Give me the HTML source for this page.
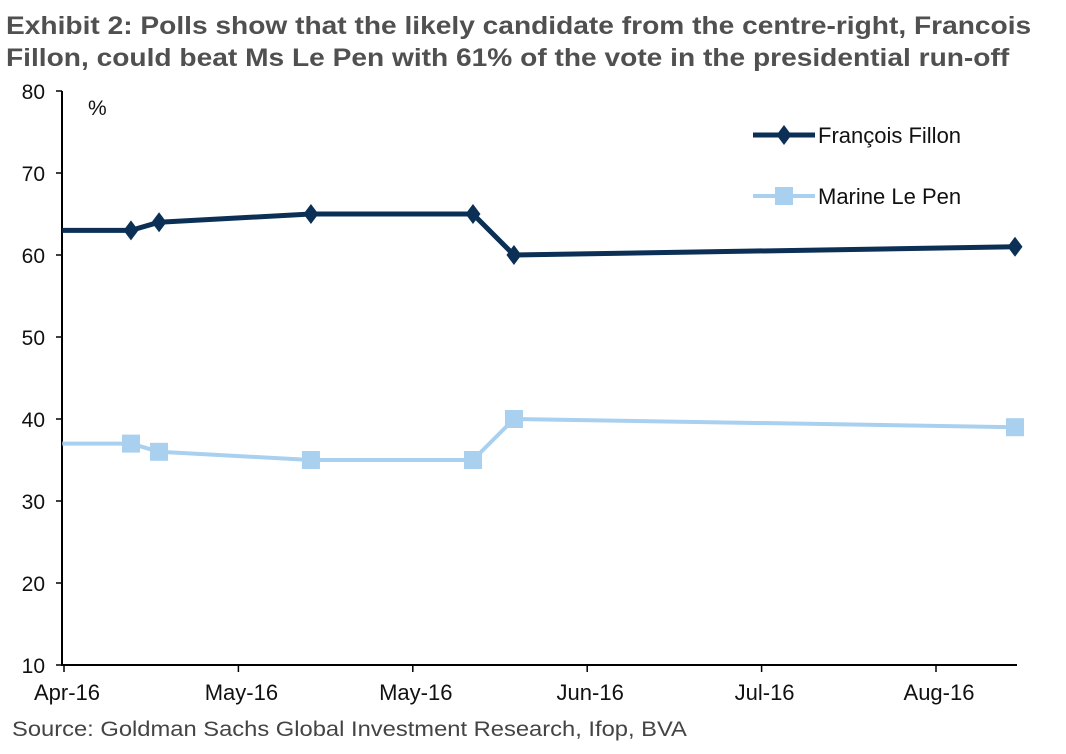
<!DOCTYPE html>
<html><head><meta charset="utf-8"><style>
body{margin:0;background:#fff;width:1066px;height:754px;overflow:hidden;font-family:"Liberation Sans",Arial,sans-serif;}
.title{position:absolute;left:6px;top:10px;font-size:25px;font-weight:bold;color:#505050;line-height:32px;white-space:nowrap;transform-origin:0 0;transform:scaleX(1.125);}
.source{position:absolute;left:12px;top:718px;font-size:21px;color:#444;white-space:nowrap;transform-origin:0 0;transform:scaleX(1.13);}
svg{position:absolute;left:0;top:0;}
</style></head><body>
<div class="title">Exhibit 2: Polls show that the likely candidate from the centre-right, Francois<br>Fillon, could beat Ms Le Pen with 61% of the vote in the presidential run-off</div>
<div class="source">Source: Goldman Sachs Global Investment Research, Ifop, BVA</div>
<svg id="chart" width="1066" height="754"></svg>
<script>
const xTickLabels=["Apr-16","May-16","May-16","Jun-16","Jul-16","Aug-16"];
const yTicks=[10,20,30,40,50,60,70,80];
const dates=[-0.01,0.384,0.545,1.416,2.345,2.58,5.453];
const fillon=[63,63,64,65,65,60,61];
const lepen=[37,37,36,35,35,40,39];
const svg=document.getElementById('chart');
const NS='http://www.w3.org/2000/svg';
const X0=64,XS=174.4,Y0=665,YS=8.2;
const xS=t=>X0+t*XS, yS=v=>Y0-(v-10)*YS;
function mk(tag,attrs,parent){const e=document.createElementNS(NS,tag);for(const k in attrs)e.setAttribute(k,attrs[k]);(parent||svg).appendChild(e);return e;}
let ya=mk('line',{x1:62,y1:yS(80),x2:62,y2:Y0+1,stroke:'#000','stroke-width':2});


let xa=mk('line',{x1:61,y1:Y0,x2:1017,y2:Y0,stroke:'#000','stroke-width':2});


yTicks.forEach(v=>{
  mk('line',{x1:56,y1:yS(v),x2:62,y2:yS(v),stroke:'#000','stroke-width':1.5});
  const t=mk('text',{x:45,y:yS(v)+8,'text-anchor':'end','font-size':21,fill:'#111','font-family':'Liberation Sans, Arial, sans-serif'});
  t.textContent=v;
  
  
});
xTickLabels.forEach((l,i)=>{
  mk('line',{x1:xS(i),y1:Y0,x2:xS(i),y2:Y0+7,stroke:'#000','stroke-width':1.5});
  const t=mk('text',{x:xS(i)+3,y:Y0+35,'text-anchor':'middle','font-size':22,fill:'#111','font-family':'Liberation Sans, Arial, sans-serif'});
  t.textContent=l;
  
  
});
const pct=mk('text',{x:88,y:115,'font-size':21,fill:'#111'});pct.textContent='%';


function diamond(cx,cy,r,fill,g){return mk('polygon',{points:`${cx},${cy-r} ${cx+r*0.75},${cy} ${cx},${cy+r} ${cx-r*0.75},${cy}`,fill:fill},g);}
function series(vals,color,name,isSq){
  const g=mk('g',{});
  
  
  const pts=vals.map((v,i)=>xS(dates[i])+','+yS(v)).join(' ');
  mk('polyline',{points:pts,fill:'none',stroke:color,'stroke-width':isSq?4:5,'stroke-linejoin':'round'},g);
  vals.forEach((v,i)=>{
    if(i===0)return;
    const cx=xS(dates[i]),cy=yS(v);
    const m=isSq?mk('rect',{x:cx-9,y:cy-9,width:18,height:18,fill:color},g):diamond(cx,cy,10,color,g);
    
    
  });
}
series(fillon,'#0b2f55','fillon-series',false);
series(lepen,'#a9d0ee','le-pen-series',true);
const lg1=mk('g',{});


mk('line',{x1:753,y1:135,x2:815,y2:135,stroke:'#0b2f55','stroke-width':5},lg1);
diamond(784,135,10,'#0b2f55',lg1);
const t1=mk('text',{x:818,y:143,'font-size':22,fill:'#111'},lg1);t1.textContent='François Fillon';
const lg2=mk('g',{});


mk('line',{x1:753,y1:196,x2:815,y2:196,stroke:'#a9d0ee','stroke-width':4},lg2);
mk('rect',{x:775,y:187,width:18,height:18,fill:'#a9d0ee'},lg2);
const t2=mk('text',{x:818,y:204,'font-size':22,fill:'#111'},lg2);t2.textContent='Marine Le Pen';
</script>
</body></html>
